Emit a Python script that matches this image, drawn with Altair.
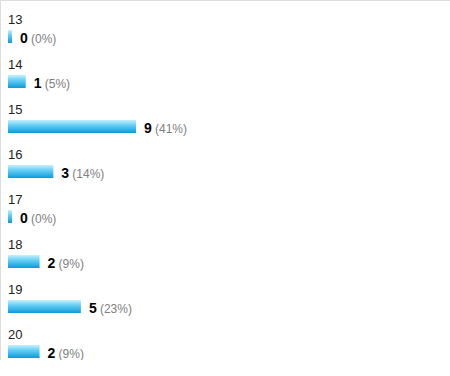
import altair as alt
import pandas as pd

# Survey answer options and the number of responses for each
options = ["13", "14", "15", "16", "17", "18", "19", "20"]
counts = [0, 1, 9, 3, 0, 2, 5, 2]
percents = [0, 5, 41, 14, 0, 9, 23, 9]

df = pd.DataFrame({
    "option": options,
    "count": counts,
    "pct": [f"({p}%)" for p in percents],
})

row_scale = alt.Scale(domain=options, range=[0, 360], paddingInner=0, paddingOuter=0)
x_scale = alt.Scale(domain=[0, 9], range=[8, 132])
y = alt.Y("option:N", scale=row_scale, axis=None)

bar_fill = alt.Gradient(
    gradient="linear",
    x1=0, x2=0, y1=0, y2=1,
    stops=[
        alt.GradientStop(offset=0, color="#c6f1fe"),
        alt.GradientStop(offset=0.35, color="#6fd3f7"),
        alt.GradientStop(offset=1, color="#0b9ad9"),
    ],
)

base = alt.Chart(df)

bars = base.mark_bar(size=13, yOffset=14, xOffset=4, color=bar_fill, cornerRadius=0).encode(
    x=alt.X("count:Q", scale=x_scale, axis=None),
    x2=alt.datum(0),
    y=y,
)

labels = base.mark_text(
    align="left", baseline="alphabetic", dy=1.5,
    font="Liberation Sans", fontSize=13, color="#222222",
).encode(
    x=alt.value(8),
    y=y,
    text="option:N",
)

values = base.mark_text(
    align="left", baseline="alphabetic", dy=20, dx=12,
    font="Liberation Sans", fontSize=14, fontWeight="bold", color="#000000",
).encode(
    x=alt.X("count:Q", scale=x_scale),
    y=y,
    text="count:Q",
)

pcts = base.mark_text(
    align="left", baseline="alphabetic", dy=20, dx=23,
    font="Liberation Sans", fontSize=12, color="#808080",
).encode(
    x=alt.X("count:Q", scale=x_scale),
    y=y,
    text="pct:N",
)

chart = alt.layer(bars, labels, values, pcts).properties(
    width=450, height=360,
    autosize=alt.AutoSizeParams(type="none"),
    padding=0,
).configure_view(stroke=None).configure(background="white")

chart.save("out.html", embed_options={"renderer": "svg", "actions": False})
